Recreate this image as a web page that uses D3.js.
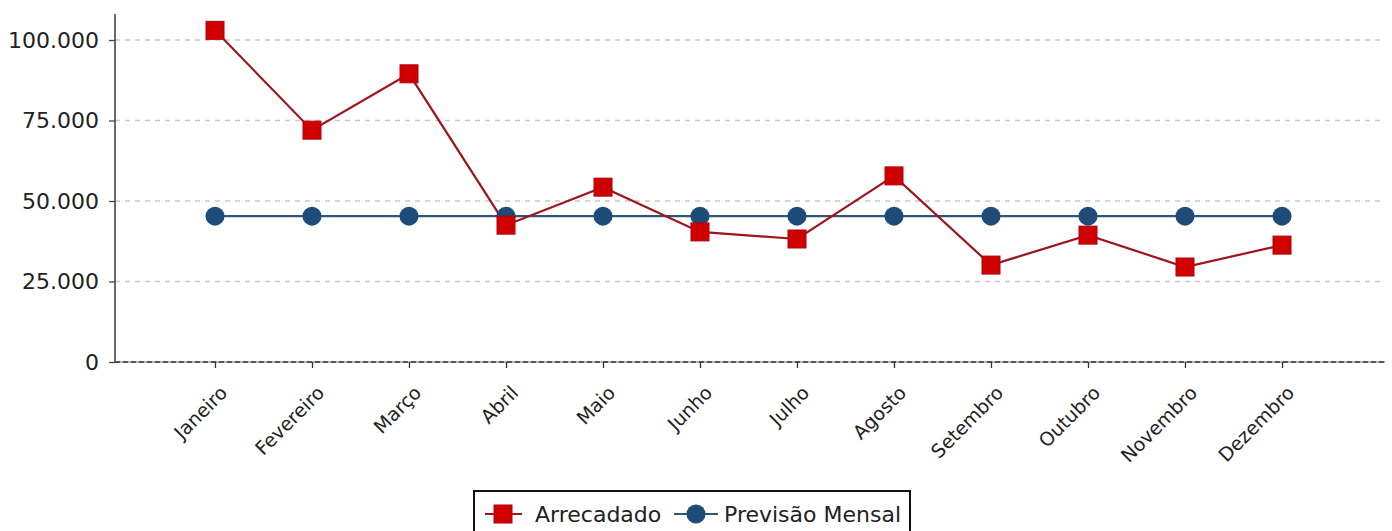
<!DOCTYPE html>
<html><head><meta charset="utf-8">
<script src="https://cdn.jsdelivr.net/npm/d3@7/dist/d3.min.js"></script>
<style>body{margin:0;background:#fff}svg{display:block}text{font-family:"DejaVu Sans",sans-serif}</style>
</head><body><svg id="c" width="1392" height="531"></svg>
<script>
const months = ["Janeiro","Fevereiro","Março","Abril","Maio","Junho","Julho","Agosto","Setembro","Outubro","Novembro","Dezembro"];
const arrecadado = [103000,72000,89500,42500,54300,40400,38200,57800,30100,39400,29500,36300];
const previsao = [45300,45300,45300,45300,45300,45300,45300,45300,45300,45300,45300,45300];
const yTicks = [0,25000,50000,75000,100000];
const seriesNames = ["Arrecadado","Previsão Mensal"];

const svg = d3.select("#c");
const axL = 115, axR = 1385, axTop = 14;
const x = d3.scalePoint().domain(months).range([215,1282]);
const y = d3.scaleLinear().domain([0,100000]).range([362,40]);
const fmt = v => v===0 ? "0" : d3.format(",")(v).replace(/,/g,".");

// grid
svg.append("g").selectAll("line").data(yTicks.filter(d=>d>0)).join("line")
  .attr("x1",axL).attr("x2",axR).attr("y1",d=>y(d)).attr("y2",d=>y(d))
  .attr("stroke","#c8c8c8").attr("stroke-width",1.3).attr("stroke-dasharray","5,5");

// y axis
const ya = svg.append("g").attr("transform",`translate(${axL},0)`)
  .call(d3.axisLeft(y).tickValues(yTicks).tickFormat(fmt).tickSize(6).tickPadding(10));
ya.select(".domain").remove();
ya.selectAll(".tick line").attr("stroke","#444").attr("stroke-width",1.3);
ya.selectAll(".tick text").attr("font-size",22).attr("fill","#222").attr("font-family","DejaVu Sans");
svg.append("line").attr("x1",axL).attr("x2",axL).attr("y1",axTop).attr("y2",y(0))
  .attr("stroke","#444").attr("stroke-width",1.6);

// x axis
svg.append("line").attr("x1",axL).attr("x2",axR).attr("y1",y(0)).attr("y2",y(0))
  .attr("stroke","#999").attr("stroke-width",1.6);
svg.append("line").attr("x1",axL).attr("x2",axR).attr("y1",y(0)).attr("y2",y(0))
  .attr("stroke","#333").attr("stroke-width",1.6).attr("stroke-dasharray","5,3");
const xa = svg.append("g").attr("transform",`translate(0,${y(0)})`)
  .call(d3.axisBottom(x).tickSize(6).tickPadding(0));
xa.select(".domain").remove();
xa.selectAll(".tick line").attr("stroke","#333").attr("stroke-width",1.3);
xa.selectAll(".tick text").attr("font-size",19).attr("fill","#222").attr("font-family","DejaVu Sans")
  .attr("text-anchor","end").attr("dy",0).attr("y",0)
  .attr("transform","translate(13,32) rotate(-45)");

// previsao line
const line = d3.line().x((d,i)=>x(months[i])).y(d=>y(d));
svg.append("path").datum(previsao).attr("d",line).attr("fill","none")
  .attr("stroke","#2e5777").attr("stroke-width",2.2);
// arrecadado line
svg.append("path").datum(arrecadado).attr("d",line).attr("fill","none")
  .attr("stroke","#a0141c").attr("stroke-width",2.2);
// circles
svg.append("g").selectAll("circle").data(previsao).join("circle")
  .attr("cx",(d,i)=>x(months[i])).attr("cy",d=>y(d)).attr("r",9.5)
  .attr("fill","#1d4c78");
// squares
const s=18;
svg.append("g").selectAll("rect").data(arrecadado).join("rect")
  .attr("x",(d,i)=>x(months[i])-s/2).attr("y",d=>y(d)-s/2).attr("width",s).attr("height",s)
  .attr("fill","#d00000").attr("stroke","#b00010").attr("stroke-width",1);

// legend
const lg = svg.append("g");
lg.append("rect").attr("x",474).attr("y",491).attr("width",436).attr("height",50)
  .attr("fill","#fff").attr("stroke","#111").attr("stroke-width",2);
const ly = 514;
lg.append("line").attr("x1",485).attr("x2",522).attr("y1",ly).attr("y2",ly).attr("stroke","#a0141c").attr("stroke-width",2.2);
lg.append("rect").attr("x",503-s/2).attr("y",ly-s/2).attr("width",s).attr("height",s).attr("fill","#d00000").attr("stroke","#b00010");
lg.append("text").attr("x",535).attr("y",ly+8).attr("font-size",22).attr("fill","#222").text(seriesNames[0]);
lg.append("line").attr("x1",674).attr("x2",718).attr("y1",ly).attr("y2",ly).attr("stroke","#2e5777").attr("stroke-width",2.2);
lg.append("circle").attr("cx",696).attr("cy",ly).attr("r",9.5).attr("fill","#1d4c78");
lg.append("text").attr("x",724).attr("y",ly+8).attr("font-size",22).attr("fill","#222").text(seriesNames[1]);
</script></body></html>
